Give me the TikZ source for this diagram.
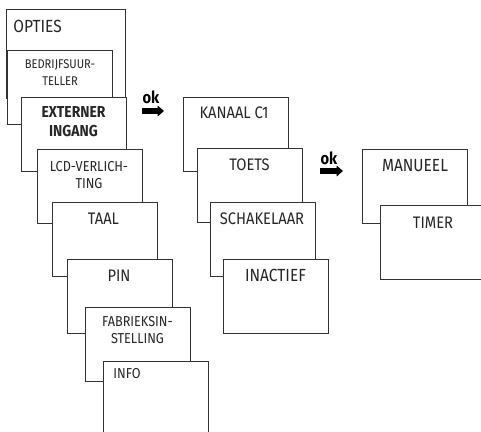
\documentclass[tikz,border=0pt]{standalone}
\usepackage{fontspec}
\setmainfont{Fira Sans}[FakeStretch=0.88]
\usetikzlibrary{arrows.meta}
\tikzset{screen/.style={draw=black!80, fill=white, line width=0.6pt, anchor=north west, minimum width=2.1cm, minimum height=1.48cm, inner sep=0pt}}
\tikzset{bigscreen/.style={screen, minimum width=2.38cm, minimum height=1.78cm}}
\tikzset{txt/.style={inner sep=0pt, align=center, text=black!85, font=\fontsize{9.5}{11}\selectfont}}
\tikzset{smalltxt/.style={txt, font=\fontsize{8.2}{9.7}\selectfont}}
\tikzset{tinytxt/.style={txt, font=\fontsize{7.2}{9.6}\selectfont}}
\tikzset{boldtxt/.style={txt, font=\fontsize{9}{10.8}\bfseries}}
\tikzset{oktxt/.style={inner sep=0pt, font=\fontsize{9.5}{10}\bfseries}}
\tikzset{okarrow/.style={line width=3.2pt, -{Triangle[length=3.6pt, width=6pt]}}}

\begin{document}
\begin{tikzpicture}[x=0.02cm, y=-0.02cm]
\useasboundingbox (0,0) rectangle (481,432);

%menu opties
\node (opties) at (6,9)[bigscreen]{};
\node (optiestxt) at (13,26)[txt, anchor=west, font=\fontsize{10}{12}\selectfont]{OPTIES};
\node (bedrijf) at (7,50)[screen]{};
\node (bedrijftxt) at (60,72.5)[tinytxt]{BEDRIJFSUUR-\\TELLER};
\node (extern) at (21,97)[screen]{};
\node (externtxt) at (73.5,121.5)[boldtxt]{EXTERNER\\INGANG};
\node (lcd) at (37,149)[screen]{};
\node (lcdtxt) at (89,175.5)[smalltxt]{LCD-VERLICH-\\TING};
\node (taal) at (52,202)[screen]{};
\node (taaltxt) at (103.5,219)[txt]{TAAL};
\node (pin) at (67,259)[screen]{};
\node (pintxt) at (119,276)[txt]{PIN};
\node (fabriek) at (85,307)[screen]{};
\node (fabriektxt) at (137.5,330)[smalltxt]{FABRIEKSIN-\\STELLING};
\node (info) at (103,361)[screen]{};
\node (infotxt) at (113,374)[smalltxt, anchor=west]{INFO};

%menu externer ingang
\node (kanaal) at (183,97)[screen]{};
\node (kanaaltxt) at (234,112.5)[txt]{KANAAL C1};
\node (toets) at (197,148)[screen]{};
\node (toetstxt) at (249.5,165)[txt]{TOETS};
\node (schakel) at (210,202)[screen]{};
\node (schakeltxt) at (262,219)[txt]{SCHAKELAAR};
\node (inactief) at (223,259)[screen]{};
\node (inactieftxt) at (275.5,275.5)[txt, font=\fontsize{10}{12}\selectfont]{INACTIEF};

%menu toets
\node (manueel) at (362,149)[screen]{};
\node (manueeltxt) at (415,165.5)[txt, font=\fontsize{10}{12}\selectfont]{MANUEEL};
\node (timer) at (380,205)[screen]{};
\node (timertxt) at (433,222.5)[txt]{TIMER};

%ok pijlen
\coordinate (ok1s) at (142,111);
\coordinate (ok1e) at (164,111);
\node (ok1) at (151,97.5)[oktxt]{ok};
\draw[okarrow] (ok1s)--(ok1e);
\coordinate (ok2s) at (320,171);
\coordinate (ok2e) at (343,171);
\node (ok2) at (329,158)[oktxt]{ok};
\draw[okarrow] (ok2s)--(ok2e);

\end{tikzpicture}
\end{document}
